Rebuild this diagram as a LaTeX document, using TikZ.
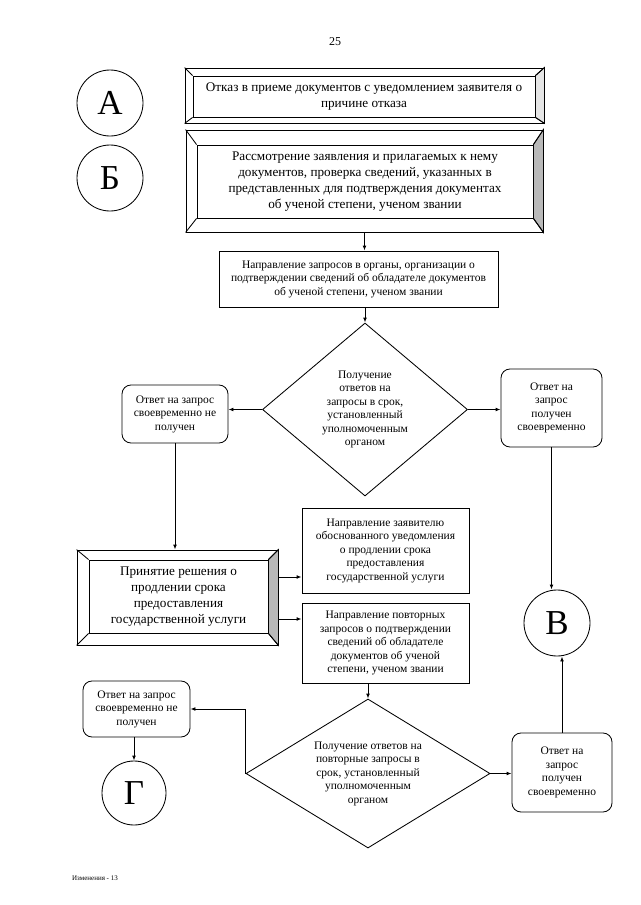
\documentclass[tikz,border=0pt]{standalone}
\usepackage{fontspec}
\setmainfont{Liberation Serif}
\usetikzlibrary{shapes.geometric,arrows.meta}

\begin{document}
\begin{tikzpicture}[x=1pt,y=-1pt,
  >={Latex[length=5pt,width=3.8pt]}, line width=0.85pt,
  small/.style={font=\fontsize{11.5}{13.5}\selectfont, align=center},
  box/.style={small, draw, inner sep=2pt},
  rbox/.style={box, rounded corners=9pt},
  rhomb/.style={small, draw, diamond, inner sep=0pt},
  ring/.style={draw, circle, minimum size=66pt, inner sep=0pt, font=\fontsize{35}{40}\selectfont},
  bevelout/.style={draw, fill=white, inner sep=0pt},
  bevelin/.style={draw, fill=white, inner sep=2pt, align=center, font=\fontsize{13.2}{16}\selectfont}]
	\useasboundingbox (0,0) rectangle (640,905);
	\node (num) at (335,42) {\fontsize{12}{14}\selectfont 25};
	\node [ring] (A) at (110,103) {А};
	\node [ring] (B) at (110,178) {Б};
	\node [ring] (V) at (557,623) {В};
	\node [ring, minimum size=64pt] (G) at (134,793) {Г};

	% beveled boxes
	\node [bevelout, minimum width=359pt, minimum height=55pt] (otkaz-o) at (364.5,95.5) {};
	\node [bevelin, minimum width=342pt, minimum height=41pt] (otkaz) at (364,96.5)
		{Отказ в приеме документов с уведомлением заявителя о\\причине отказа};
	\node [bevelout, minimum width=357pt, minimum height=102pt] (rassm-o) at (364.5,181) {};
	\node [bevelin, minimum width=336pt, minimum height=73pt] (rassm) at (365,181.5)
		{Рассмотрение заявления и прилагаемых к нему\\документов, проверка сведений, указанных в\\представленных для подтверждения документах\\об ученой степени, ученом звании};
	\node [bevelout, minimum width=201pt, minimum height=95pt] (prin-o) at (177.5,597.5) {};
	\node [bevelin, minimum width=179pt, minimum height=73pt] (prin) at (178.5,596.5)
		{Принятие решения о\\продлении срока\\предоставления\\государственной услуги};
	\filldraw [fill=gray!20] (otkaz-o.north east) -- (otkaz.north east) -- (otkaz.south east) -- (otkaz-o.south east) -- cycle;
	\filldraw [fill=gray!55] (rassm-o.north east) -- (rassm.north east) -- (rassm.south east) -- (rassm-o.south east) -- cycle;
	\filldraw [fill=gray!55] (prin-o.north east) -- (prin.north east) -- (prin.south east) -- (prin-o.south east) -- cycle;
	\foreach \b in {otkaz, rassm, prin}
		\foreach \c in {north west, north east, south west, south east}
			\draw (\b-o.\c) -- (\b.\c);

	% plain boxes
	\node [box, minimum width=279pt, minimum height=56pt] (zapr) at (358.5,279)
		{Направление запросов в органы, организации о\\подтверждении сведений об обладателе документов\\об ученой степени, ученом звании};
	\node [rhomb, aspect=1.18, minimum width=205pt, minimum height=173pt] (dia1) at (365,409.5)
		{Получение\\ответов на\\запросы в срок,\\установленный\\уполномоченным\\органом};
	\node [rbox, minimum width=106pt, minimum height=58pt] (ne1) at (175,414)
		{Ответ на запрос\\своевременно не\\получен};
	\node [rbox, minimum width=101pt, minimum height=78pt] (da1) at (551.5,408)
		{Ответ на\\запрос\\получен\\своевременно};
	\node [box, minimum width=167pt, minimum height=85pt] (uved) at (385.5,550.5)
		{Направление заявителю\\обоснованного уведомления\\о продлении срока\\предоставления\\государственной услуги};
	\node [box, minimum width=167pt, minimum height=80pt] (povt) at (385.5,643)
		{Направление повторных\\запросов о подтверждении\\сведений об обладателе\\документов об ученой\\степени, ученом звании};
	\node [rhomb, aspect=1.64, minimum width=244pt, minimum height=149pt] (dia2) at (368,773.5)
		{Получение ответов на\\повторные запросы в\\срок, установленный\\уполномоченным\\органом};
	\node [rbox, minimum width=107pt, minimum height=56pt] (ne2) at (136.5,709)
		{Ответ на запрос\\своевременно не\\получен};
	\node [rbox, minimum width=100pt, minimum height=79pt] (da2) at (562,772.5)
		{Ответ на\\запрос\\получен\\своевременно};
	\node (izm) at (95,878) {\fontsize{7}{8}\selectfont Изменения - 13};

	\draw [->] (rassm-o.south) -- (rassm-o.south |- zapr.north);
	\draw [->] (dia1.north |- zapr.south) -- (dia1.north);
	\draw [->] (dia1.west) -- (dia1.west -| ne1.east);
	\draw [->] (dia1.east) -- (dia1.east -| da1.west);
	\draw [->] (ne1.south) -- (ne1.south |- prin-o.north);
	\draw [->] ([yshift=20.5pt]prin-o.east) -- ([yshift=20.5pt]prin-o.east -| uved.west);
	\draw [->] ([yshift=-21.5pt]prin-o.east) -- ([yshift=-21.5pt]prin-o.east -| povt.west);
	\draw [->] (da1.south) -- (da1.south |- V.north);
	\draw [->] (da2.north) -- (da2.north |- V.south);
	\draw [->] (dia2.north |- povt.south) -- (dia2.north);
	\draw [->] (dia2.west) -- (dia2.west |- ne2.east) -- (ne2.east);
	\draw [->] (G.north |- ne2.south) -- (G.north);
	\draw [->] (dia2.east) -- (dia2.east -| da2.west);
\end{tikzpicture}
\end{document}
